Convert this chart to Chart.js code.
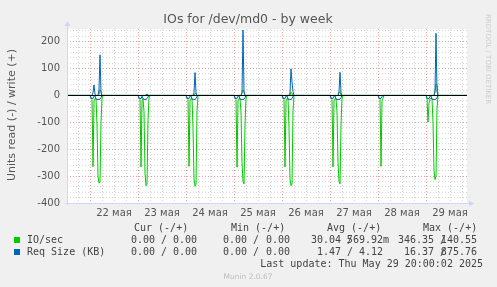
<!DOCTYPE html>
<html lang="ru">
<head>
<meta charset="UTF-8">
<title>IOs for /dev/md0 - by week</title>
<script src="https://cdn.jsdelivr.net/npm/chart.js"></script>
<style>
  html, body { margin: 0; padding: 0; background: #f0f0f0; }
  canvas { display: block; }
</style>
</head>
<body>
<canvas id="ioChart" width="497" height="287"></canvas>
<script>
// x is hours since 22 May 00:00, RRD keeps one sample per 30 min for the week view
const xMin = -11.5;
const xMax = 188.5;
const dayLabels = ['22 мая', '23 мая', '24 мая', '25 мая', '26 мая', '27 мая', '28 мая', '29 мая'];
const dayStart = [0, 24, 48, 72, 96, 120, 144, 168];
// sample times after midnight of each day where something happens (hours)
const sampleOffsets = [0, 0.5, 1, 1.5, 2, 2.5, 3, 3.5, 4, 4.5, 5, 5.5, 6, 6.5];

// read values (munin draws them below zero)
const ioRead = [
  [0, 10, 15, 265, 20, 12, 12, 110, 300, 326, 322, 100, 10, 0],
  [0, 10, 15, 266, 20, 12, 60, 290, 336, 330, 90, 10, 0, 0],
  [0, 10, 15, 264, 20, 12, 12, 120, 310, 338, 330, 60, 0, 0],
  [0, 10, 15, 267, 20, 12, 12, 60, 250, 320, 329, 110, 10, 0],
  [0, 10, 15, 266, 20, 12, 12, 120, 310, 336, 330, 60, 0, 0],
  [0, 10, 15, 266, 20, 12, 12, 60, 250, 320, 329, 110, 10, 0],
  [0, 10, 15, 264, 20, 10, 0, 0, 0, 0, 0, 0, 0, 0],
  [0, 10, 99, 30, 12, 12, 12, 100, 280, 313, 300, 50, 0, 0]
];
const ioWrite = [
  [0, 0, 0, 0, 0, 0, 0, 0, 0, 5, 21, 15, 0, 0],
  [0, 0, 0, 0, 0, 0, 0, 0, 3, 5, 3, 0, 0, 0],
  [0, 0, 0, 0, 0, 0, 0, 0, 0, 8, 6, 0, 0, 0],
  [0, 0, 0, 0, 0, 0, 0, 0, 10, 20, 12, 0, 0, 0],
  [0, 0, 0, 0, 0, 0, 0, 0, 0, 12, 8, 0, 0, 0],
  [0, 0, 0, 0, 0, 0, 0, 0, 0, 10, 15, 0, 0, 0],
  [0, 0, 0, 0, 0, 0, 0, 0, 0, 0, 0, 0, 0, 0],
  [0, 0, 0, 0, 0, 0, 0, 0, 0, 15, 43, 40, 0, 0]
];
const reqRead = [
  [0, 10, 10, 12, 3, 2, 14, 14, 15, 15, 14, 8, 0, 0],
  [0, 10, 10, 12, 3, 12, 14, 15, 15, 12, 6, 0, 0, 0],
  [0, 10, 10, 12, 3, 2, 14, 14, 15, 15, 12, 4, 0, 0],
  [0, 10, 10, 12, 3, 2, 14, 14, 15, 15, 14, 8, 0, 0],
  [0, 10, 10, 12, 3, 2, 14, 14, 15, 15, 12, 4, 0, 0],
  [0, 10, 10, 12, 3, 2, 14, 14, 15, 15, 14, 8, 0, 0],
  [0, 10, 12, 10, 5, 0, 0, 0, 0, 0, 0, 0, 0, 0],
  [0, 10, 12, 12, 3, 2, 14, 14, 15, 15, 14, 8, 0, 0]
];
const reqWrite = [
  [0, 0, 0, 10, 39, 5, 0, 0, 0, 20, 151, 10, 0, 0],
  [0, 0, 0, 0, 0, 0, 0, 0, 0, 3, 0, 0, 0, 0],
  [0, 0, 0, 0, 0, 0, 0, 0, 10, 85, 10, 0, 0, 0],
  [0, 0, 0, 0, 0, 0, 0, 0, 10, 243, 15, 0, 0, 0],
  [0, 0, 0, 0, 0, 0, 0, 0, 10, 99, 50, 15, 0, 0],
  [0, 0, 0, 0, 0, 0, 0, 0, 0, 15, 86, 10, 0, 0],
  [0, 0, 0, 0, 0, 0, 0, 0, 0, 0, 0, 0, 0, 0],
  [0, 0, 0, 0, 0, 0, 0, 0, 0, 15, 231, 15, 0, 0]
];

// legend table
const legendHeads = ['Cur (-/+)', 'Min (-/+)', 'Avg (-/+)', 'Max (-/+)'];
const ioStats = [['0.00', '0.00 '], ['0.00', '0.00 '], ['30.04', '569.92m'], ['346.35', '140.55 ']];
const reqStats = [['0.00', '0.00 '], ['0.00', '0.00 '], ['1.47', '4.12 '], ['16.37', '875.76 ']];

const GREEN = '#00cc00';
const BLUE = '#0066b3';

function series(rows, sign) {
  const pts = [{ x: xMin, y: 0 }];
  rows.forEach((row, d) => {
    row.forEach((v, j) => pts.push({ x: dayStart[d] + sampleOffsets[j], y: sign * v }));
  });
  pts.push({ x: xMax, y: 0 });
  return pts;
}

const mono = '10px "DejaVu Sans Mono"';

const munin = {
  id: 'munin',
  beforeDraw(chart) {
    const { ctx, chartArea: a } = chart;
    ctx.save();
    ctx.fillStyle = '#f0f0f0';
    ctx.fillRect(0, 0, chart.width, chart.height);
    ctx.fillStyle = '#ffffff';
    ctx.fillRect(a.left, a.top, a.right - a.left, a.bottom - a.top);
    ctx.restore();
  },
  afterDatasetsDraw(chart) {
    const { ctx, chartArea: a, scales } = chart;
    ctx.save();
    // zero rule
    const y0 = Math.round(scales.y.getPixelForValue(0)) + 0.5;
    ctx.strokeStyle = '#000';
    ctx.lineWidth = 1;
    ctx.beginPath();
    ctx.moveTo(a.left, y0);
    ctx.lineTo(a.right, y0);
    ctx.stroke();

    // axes with arrows
    ctx.strokeStyle = '#cfd6f8';
    ctx.fillStyle = '#cfd6f8';
    ctx.beginPath();
    ctx.moveTo(a.left + 0.5, a.bottom + 2);
    ctx.lineTo(a.left + 0.5, a.top - 3);
    ctx.moveTo(a.left - 2, a.bottom + 0.5);
    ctx.lineTo(a.right + 3, a.bottom + 0.5);
    ctx.stroke();
    ctx.beginPath();
    ctx.moveTo(a.left + 0.5, a.top - 8);
    ctx.lineTo(a.left - 2.5, a.top - 3);
    ctx.lineTo(a.left + 3.5, a.top - 3);
    ctx.fill();
    ctx.beginPath();
    ctx.moveTo(a.right + 7, a.bottom + 0.5);
    ctx.lineTo(a.right + 2, a.bottom - 2.5);
    ctx.lineTo(a.right + 2, a.bottom + 3.5);
    ctx.fill();
    ctx.restore();
  },
  afterDraw(chart) {
    const { ctx } = chart;
    ctx.save();
    // title
    ctx.fillStyle = '#555';
    ctx.font = '12.5px "DejaVu Sans"';
    ctx.textAlign = 'center';
    ctx.textBaseline = 'alphabetic';
    ctx.fillText('IOs for /dev/md0 - by week', 248, 23);

    // vertical unit label
    ctx.save();
    ctx.translate(12, 115);
    ctx.rotate(-Math.PI / 2);
    ctx.font = '11px "DejaVu Sans"';
    ctx.textBaseline = 'middle';
    ctx.fillText('Units read (-) / write (+)', 0, 0);
    ctx.restore();

    // watermark
    ctx.save();
    ctx.translate(488, 14);
    ctx.rotate(Math.PI / 2);
    ctx.fillStyle = '#cccccc';
    ctx.font = '7px "DejaVu Sans"';
    ctx.textAlign = 'left';
    ctx.textBaseline = 'middle';
    ctx.fillText('RRDTOOL / TOBI OETIKER', 0, 0);
    ctx.restore();

    // legend
    ctx.font = mono;
    ctx.fillStyle = '#444';
    ctx.textBaseline = 'middle';
    ctx.textAlign = 'left';
    const headX = [134, 231, 327, 423];
    legendHeads.forEach((h, i) => ctx.fillText(h, headX[i], 228));

    const slashX = [161, 253, 347, 440];
    const endX = [203, 296, 389, 483];
    const rows = [
      { label: 'IO/sec', color: GREEN, stats: ioStats, y: 240 },
      { label: 'Req Size (KB)', color: BLUE, stats: reqStats, y: 252 }
    ];
    rows.forEach(r => {
      ctx.fillStyle = r.color;
      ctx.fillRect(14, r.y - 3, 6, 6);
      ctx.fillStyle = '#444';
      ctx.textAlign = 'left';
      ctx.fillText(r.label, 27, r.y);
      r.stats.forEach((s, i) => {
        ctx.textAlign = 'right';
        ctx.fillText(s[0], slashX[i] - 6, r.y);
        ctx.textAlign = 'left';
        ctx.fillText('/', slashX[i], r.y);
        ctx.textAlign = 'right';
        ctx.fillText(s[1], endX[i], r.y);
      });
    });
    ctx.textAlign = 'right';
    ctx.fillText('Last update: Thu May 29 20:00:02 2025', 483, 264);

    ctx.textAlign = 'center';
    ctx.fillStyle = '#bbbbbb';
    ctx.font = '7.5px "DejaVu Sans"';
    ctx.fillText('Munin 2.0.67', 248, 277);
    ctx.restore();
  }
};

const dotted = [1, 2];

new Chart(document.getElementById('ioChart'), {
  type: 'line',
  data: {
    datasets: [
      { label: 'IO/sec read', data: series(ioRead, -1), borderColor: GREEN, order: 1 },
      { label: 'IO/sec write', data: series(ioWrite, 1), borderColor: GREEN, order: 1 },
      { label: 'Req Size read', data: series(reqRead, -1), borderColor: BLUE, order: 0 },
      { label: 'Req Size write', data: series(reqWrite, 1), borderColor: BLUE, order: 0 }
    ]
  },
  options: {
    responsive: false,
    devicePixelRatio: 1,
    animation: false,
    layout: { padding: { top: 29, right: 30, left: 0, bottom: 0 } },
    elements: {
      line: { borderWidth: 1, tension: 0, fill: false },
      point: { radius: 0, hitRadius: 0 }
    },
    plugins: { legend: { display: false }, tooltip: { enabled: false } },
    scales: {
      x: {
        type: 'linear',
        min: xMin,
        max: xMax,
        afterFit: s => { s.height = 84; },
        afterBuildTicks: s => {
          const t = [];
          for (let v = -6; v <= xMax; v += 6) t.push({ value: v });
          s.ticks = t;
        },
        grid: {
          drawTicks: false,
          color: c => (c.tick && c.tick.value % 24 === 0) ? '#e8a0a0' : '#d0d0d0'
        },
        border: { display: false, dash: dotted },
        ticks: {
          autoSkip: false,
          maxRotation: 0,
          padding: 4,
          color: '#555',
          font: { family: 'DejaVu Sans', size: 10 },
          callback: v => (((v % 24) + 24) % 24 === 12) ? dayLabels[(v - 12) / 24] : ''
        }
      },
      y: {
        min: -400,
        max: 247,
        afterFit: s => { s.width = 67; },
        afterBuildTicks: s => {
          const t = [];
          for (let v = -400; v <= 247; v += 20) t.push({ value: v });
          s.ticks = t;
        },
        grid: {
          drawTicks: false,
          color: c => (c.tick && c.tick.value % 100 === 0) ? '#e8a0a0' : '#d8d8d8'
        },
        border: { display: false, dash: dotted },
        ticks: {
          autoSkip: false,
          padding: 7,
          color: '#555',
          font: { family: 'DejaVu Sans', size: 10 },
          callback: v => (v % 100 === 0) ? String(v) : ''
        }
      }
    }
  },
  plugins: [munin]
});
</script>
</body>
</html>
